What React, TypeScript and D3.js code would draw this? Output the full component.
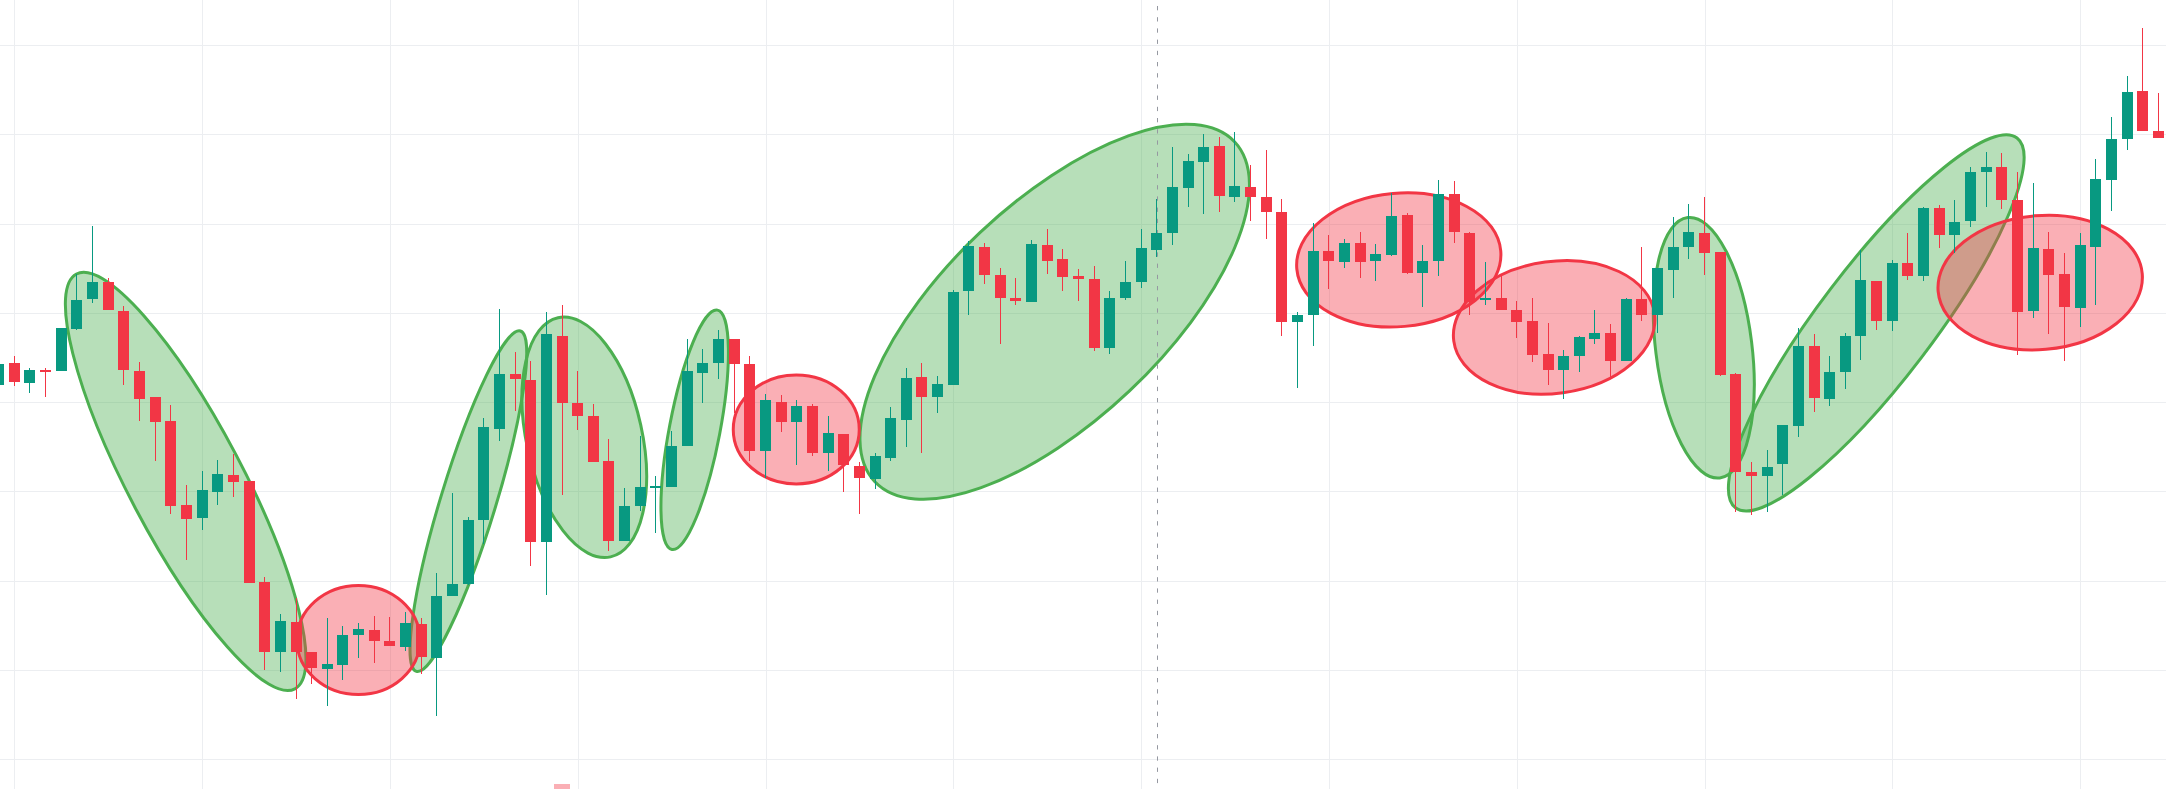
import React from "react";
import * as d3 from "d3";

const W = 2166;
const H = 789;

// OHLC values, one per bar (bar 0 is cut by the left edge)
const OPEN = [802,847,806,833,830,915,973,1008,950,831,779,731,564,538,591,624,612,411,273,332,272,239,247,307,315,295,283,327,261,383,407,534,716,825,813,491,900,768,741,652,493,563,598,600,681,827,846,894,845,672,769,729,761,667,706,642,617,658,734,819,780,802,989,1077,1021,976,967,1081,1053,1019,1014,877,975,1007,1072,1104,1195,1247,1278,1177,1196,1176,1147,929,941,1069,1048,1085,1050,1062,1141,1026,1050,1182,1105,971,976,952,930,865,832,860,894,906,851,974,942,1032,1078,1105,1067,825,629,623,645,722,880,776,828,901,1010,931,1045,1019,1155,1100,1128,1226,1236,1171,949,1073,1023,955,1078,1211,1291,1387,1308];
const HIGH = [853,861,837,837,916,1023,1119,1015,960,849,779,763,604,632,654,666,612,421,348,380,272,340,324,330,344,342,352,340,429,588,540,737,954,868,851,948,962,831,765,696,598,702,622,712,894,874,912,894,861,785,783,773,765,741,706,650,668,759,837,847,821,991,1089,1085,1035,1016,1091,1113,1073,1033,1039,990,1049,1113,1173,1276,1262,1302,1296,1306,1240,1270,1173,948,1125,1101,1093,1107,1083,1184,1145,1081,1210,1208,1107,1047,1019,970,976,926,872,900,952,924,976,1077,1035,1137,1163,1176,1067,827,650,674,723,916,904,861,906,1071,1010,1051,1105,1157,1161,1171,1236,1266,1264,1226,1204,1107,1065,1105,1252,1335,1417,1512,1383];
const LOW = [793,800,786,780,830,912,965,951,803,732,651,546,456,514,565,581,410,237,232,179,208,165,216,261,251,285,275,228,146,383,405,486,691,752,444,385,585,714,649,472,493,553,508,600,681,768,815,748,651,618,710,643,661,632,591,546,597,652,679,667,748,802,941,1003,885,961,967,1024,989,969,871,865,972,995,1057,1082,1156,1142,1146,1166,1128,1094,901,796,881,993,1036,1015,1009,1060,1023,957,1020,1086,942,961,951,897,848,802,776,828,884,816,850,931,906,975,1054,1022,821,550,544,550,584,699,750,762,794,852,913,911,1011,1009,1076,1066,1116,1156,1152,862,936,905,850,919,961,1148,1269,1307,1293];
const CLOSE = [845,808,833,828,916,972,1008,951,832,776,730,563,536,594,626,611,410,273,334,273,241,248,306,317,295,285,330,263,383,407,535,719,825,814,490,904,768,742,649,492,562,600,602,682,831,847,894,844,671,773,729,761,668,707,643,619,662,737,817,780,805,988,1079,1022,975,969,1083,1050,1017,1013,876,976,1008,1075,1105,1196,1248,1276,1179,1198,1177,1146,929,942,1069,1050,1085,1048,1063,1139,1026,1049,1182,1106,968,975,951,929,863,832,861,898,906,850,974,942,1035,1077,1107,1066,822,629,623,640,723,880,777,828,900,1012,931,1045,1019,1155,1100,1127,1226,1236,1170,947,1075,1022,957,1081,1212,1292,1385,1307,1293];

// grid positions (bar numbers and price levels)
const GRID_BARS = [1, 13, 25, 37, 49, 61, 73, 85, 97, 109, 121, 133];
const PRICE_TICKS = [60, 237, 414, 592, 769, 946, 1123, 1301, 1478];

// annotation ellipses: diameter from (bar1, price1) to (bar2, price2), minor/major ratio
const GREEN_ELLIPSES = [
  [4.97, 1023.5, 18.93, 199.1, 0.243],
  [26.69, 233.7, 33.34, 910.2, 0.155],
  [35.74, 936.6, 39.1, 461.3, 0.472],
  [43.02, 476.0, 45.93, 951.7, 0.208],
  [55.99, 610.5, 78.97, 1286.2, 0.44],
  [107.93, 1135.6, 109.98, 618.1, 0.367],
  [110.98, 558.9, 128.97, 1293.8, 0.245],
];
const RED_ELLIPSES = [
  [19.06, 296.1, 26.92, 296.1, 0.886],
  [46.94, 714.5, 54.99, 714.5, 0.865],
  [82.95, 1033.4, 95.98, 1069.6, 0.652],
  [92.98, 890.1, 105.81, 944.6, 0.651],
  [123.93, 988.7, 136.97, 1024.1, 0.654],
];

const CROSSHAIR_BAR = 74;
const MARKER_BAR = 36;

const UP = "#089981";
const DOWN = "#f23645";

export default function App() {
  const bars = d3.range(OPEN.length);
  const x = d3.scaleLinear().domain([1, 138]).range([14.3, 2158.35]);
  const y = d3.scaleLinear().domain([0, 1568]).range([H, 0]);
  const step = x(2) - x(1);
  const bodyW = 11;

  const ellipse = (e: number[], key: string, fill: string, stroke: string) => {
    const [b1, p1, b2, p2, r] = e;
    const x1 = x(b1), y1 = y(p1), x2 = x(b2), y2 = y(p2);
    const cx = (x1 + x2) / 2, cy = (y1 + y2) / 2;
    const a = Math.hypot(x2 - x1, y2 - y1) / 2;
    const ang = (Math.atan2(y2 - y1, x2 - x1) * 180) / Math.PI;
    return (
      <ellipse
        key={key}
        cx={cx}
        cy={cy}
        rx={a}
        ry={a * r}
        transform={`rotate(${ang} ${cx} ${cy})`}
        fill={fill}
        stroke={stroke}
        strokeWidth={3}
      />
    );
  };

  return (
    <svg
      width={W}
      height={H}
      style={{ position: "absolute", left: 0, top: 0, display: "block", background: "#ffffff" }}
    >
      <rect x={0} y={0} width={W} height={H} fill="#ffffff" />
      <g shapeRendering="crispEdges">
        {GRID_BARS.map((b) => (
          <line key={"vg" + b} x1={Math.round(x(b)) + 0.5} x2={Math.round(x(b)) + 0.5} y1={0} y2={H} stroke="#eceef1" strokeWidth={1} />
        ))}
        {PRICE_TICKS.map((p) => (
          <line key={"hg" + p} x1={0} x2={W} y1={Math.round(y(p)) + 0.5} y2={Math.round(y(p)) + 0.5} stroke="#eceef1" strokeWidth={1} />
        ))}
      </g>
      <g>
        {GREEN_ELLIPSES.map((e, k) => ellipse(e, "g" + k, "rgba(76,175,80,0.4)", "#4caf50"))}
        {RED_ELLIPSES.map((e, k) => ellipse(e, "r" + k, "rgba(242,54,69,0.4)", "#f23645"))}
      </g>
      <line
        x1={Math.round(x(CROSSHAIR_BAR)) + 0.5}
        x2={Math.round(x(CROSSHAIR_BAR)) + 0.5}
        y1={0}
        y2={H}
        stroke="#9598a1"
        strokeWidth={1}
        strokeDasharray="4.3 6.9"
        strokeDashoffset={-6}
      />
      <g shapeRendering="crispEdges">
        {bars.map((i) => {
          const o = OPEN[i], c = CLOSE[i], h = HIGH[i], l = LOW[i];
          const col = c >= o ? UP : DOWN;
          const cx = x(i);
          const top = Math.round(y(Math.max(o, c)));
          const bot = Math.round(y(Math.min(o, c)));
          return (
            <g key={"c" + i}>
              <rect x={Math.round(cx - 0.5)} y={Math.round(y(h))} width={1} height={Math.max(1, Math.round(y(l)) - Math.round(y(h)))} fill={col} />
              <rect x={Math.round(cx - bodyW / 2)} y={top} width={bodyW} height={Math.max(1, bot - top)} fill={col} />
            </g>
          );
        })}
        <rect x={Math.round(x(MARKER_BAR) - step / 2)} y={Math.round(y(0)) - 5} width={Math.round(step)} height={5} fill="rgba(242,54,69,0.4)" />
      </g>
    </svg>
  );
}
